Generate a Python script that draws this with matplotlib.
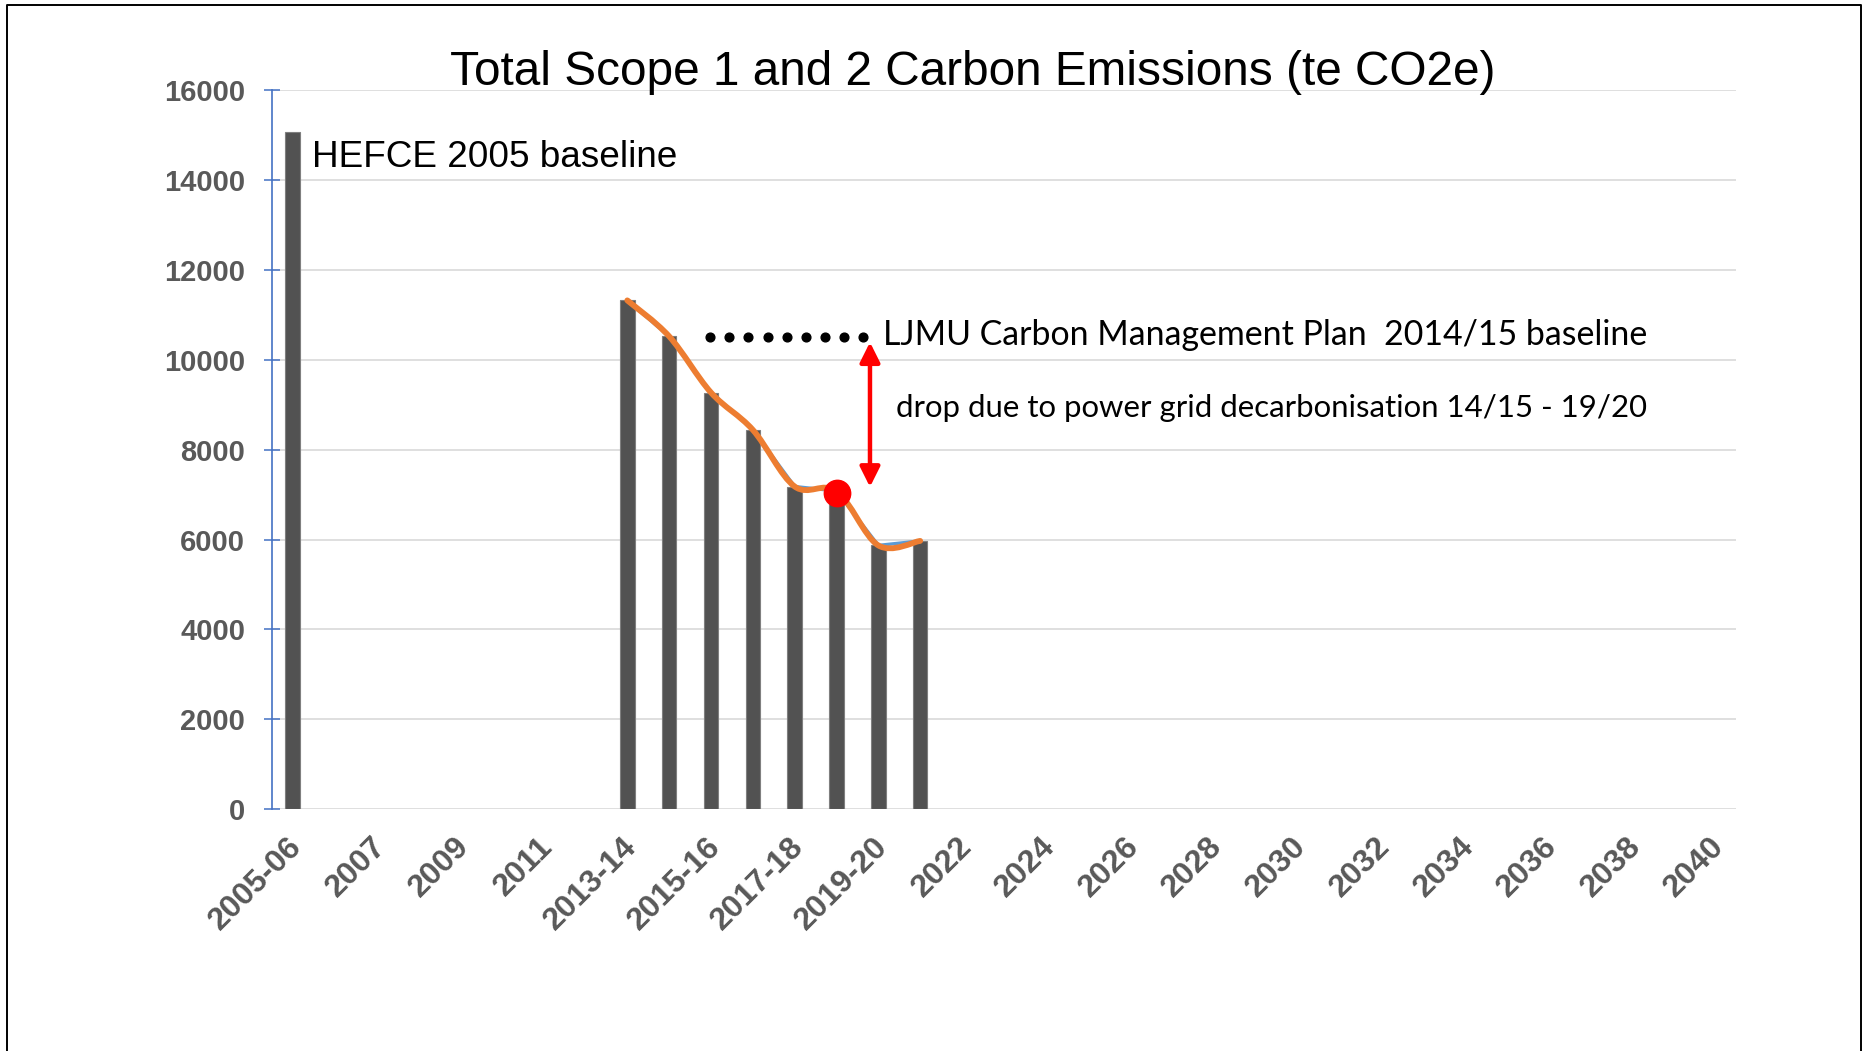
import numpy as np
import matplotlib
matplotlib.use("Agg")
import matplotlib.pyplot as plt
from matplotlib.path import Path
from matplotlib.patches import PathPatch
from matplotlib.lines import Line2D
from matplotlib.transforms import ScaledTranslation

# ---------------- data ----------------
categories = ["2005-06", "2006-07", "2007", "2008", "2009", "2010", "2011", "2012",
              "2013-14", "2014-15", "2015-16", "2016-17", "2017-18", "2018-19",
              "2019-20", "2020-21", "2022", "2023", "2024", "2025", "2026", "2027",
              "2028", "2029", "2030", "2031", "2032", "2033", "2034", "2035",
              "2036", "2037", "2038", "2039", "2040"]
emissions = [15060, None, None, None, None, None, None, None,
             11320, 10520, 9270, 8440, 7180, 7080, 5870, 5970,
             None, None, None, None, None, None, None, None, None, None,
             None, None, None, None, None, None, None, None, None]
trend_categories = ["2013-14", "2014-15", "2015-16", "2016-17", "2017-18",
                    "2018-19", "2019-20", "2020-21"]
trend_values = [11320, 10520, 9270, 8440, 7180, 7080, 5870, 5970]
highlight_category = "2018-19"
highlight_value = 7040
cmp_baseline_value = 10500
arrow_top_value = 10390
arrow_bottom_value = 7170
yticks = [0, 2000, 4000, 6000, 8000, 10000, 12000, 14000, 16000]

title = "Total Scope 1 and 2 Carbon Emissions (te CO2e)"
hefce_label = "HEFCE 2005 baseline"
cmp_label = "LJMU Carbon Management Plan  2014/15 baseline"
drop_label = "drop due to power grid decarbonisation 14/15 - 19/20"

# ---------------- figure ----------------
W, H = 1868, 1051
DPI = 100
fig = plt.figure(figsize=(W / DPI, H / DPI), dpi=DPI)
fig.patch.set_facecolor("white")

def fx(px):
    return px / W

def fy(py):
    return 1 - py / H

ax_left, ax_right, ax_top, ax_bottom = 271.7, 1736.0, 90.0, 809.3
ax = fig.add_axes([fx(ax_left), fy(ax_bottom), (ax_right - ax_left) / W,
                   (ax_bottom - ax_top) / H])

x = np.arange(len(categories))
idx = {c: i for i, c in enumerate(categories)}
bar_x = [i for i, v in enumerate(emissions) if v is not None]
bar_h = [v for v in emissions if v is not None]

ax.bar(bar_x, bar_h, width=0.35, color="#525252", edgecolor="#7f7f7f",
       linewidth=0.8, zorder=3)

tx = np.array([idx[c] for c in trend_categories], dtype=float)
ty = np.array(trend_values, dtype=float)
ax.plot(tx, ty, color="#5B9BD5", lw=2.4, zorder=4, solid_capstyle="round")

# smoothed (Excel-like) version of the same series
P = np.column_stack([tx, ty])
n = len(P)
verts = [P[0]]
codes = [Path.MOVETO]
for i in range(n - 1):
    p_prev = P[i - 1] if i > 0 else P[i]
    p_next2 = P[i + 2] if i + 2 < n else P[i + 1]
    c1 = P[i] + (P[i + 1] - p_prev) / 6.0
    c2 = P[i + 1] - (p_next2 - P[i]) / 6.0
    verts += [c1, c2, P[i + 1]]
    codes += [Path.CURVE4] * 3
ax.add_patch(PathPatch(Path(verts, codes), fill=False, edgecolor="#ED7D31",
                       lw=4.2, zorder=5, capstyle="round", joinstyle="round"))

ax.plot([idx[highlight_category]], [highlight_value], "o", color="#FF0000",
        markersize=19, zorder=6)

# dotted baseline marker
dots_x = np.linspace(9.98, 13.64, 9)
ax.plot(dots_x, [cmp_baseline_value] * len(dots_x), "o", color="black",
        markersize=6.3, zorder=6, clip_on=False)

# red double arrow
ax.annotate("", xy=(13.80, arrow_bottom_value), xytext=(13.80, arrow_top_value),
            arrowprops=dict(arrowstyle="<|-|>,head_length=1.2,head_width=0.6",
                            color="#FF0000", lw=3.2, mutation_scale=10,
                            shrinkA=0, shrinkB=0), zorder=6)

# ---------------- axes styling ----------------
ax.set_xlim(-0.5, len(categories) - 0.5)
ax.set_ylim(0, 16000)
ax.set_yticks(yticks)
ax.set_yticklabels([str(v) for v in yticks])
for s in ["top", "right", "bottom"]:
    ax.spines[s].set_visible(False)
ax.spines["left"].set_color("#4472C4")
ax.spines["left"].set_linewidth(1.2)
ax.spines["left"].set_zorder(7)
ax.yaxis.grid(True, color="#D9D9D9", lw=1.2, zorder=0)
ax.set_axisbelow(True)
ax.tick_params(axis="y", direction="inout", length=12, width=1.1,
               color="#4472C4", pad=13.0, labelsize=21, labelcolor="#595959")
for t in ax.get_yticklabels():
    t.set_fontfamily("Liberation Sans")
    t.set_fontweight("bold")

xt = list(range(0, len(categories), 2))
ax.set_xticks(xt)
ax.set_xticklabels([categories[i] for i in xt])
ax.tick_params(axis="x", length=0, pad=0, labelsize=23, labelcolor="#595959")
off = ScaledTranslation(5 / DPI, -33 / DPI, fig.dpi_scale_trans)
for t in ax.get_xticklabels():
    t.set_fontfamily("Liberation Sans")
    t.set_fontweight("bold")
    t.set_rotation(45)
    t.set_rotation_mode("anchor")
    t.set_ha("right")
    t.set_va("center")
    t.set_transform(t.get_transform() + off)

# ---------------- texts ----------------
t_title = fig.text(fx(972.5), fy(85), title, ha="center", va="baseline",
                   fontsize=33, family="Liberation Sans", color="black")
t_hefce = ax.text(0.457, 14280, hefce_label, ha="left", va="baseline",
                  fontsize=26, family="Liberation Sans", color="black", zorder=8)
t_cmp = ax.text(14.10, 10333, cmp_label, ha="left", va="baseline",
                fontsize=24, family="Lato", color="black", zorder=8)
t_drop = ax.text(14.42, 8718, drop_label, ha="left", va="baseline",
                 fontsize=22, family="Lato", color="black", zorder=8)

renderer = fig.canvas.get_renderer()
for t, target in [(t_title, 1045), (t_hefce, 365), (t_cmp, 764), (t_drop, 751)]:
    for _ in range(2):
        w = t.get_window_extent(renderer).width
        t.set_fontsize(t.get_fontsize() * target / w)

# figure border
fig.add_artist(Line2D([fx(7), fx(7), fx(1861), fx(1861)],
                      [0, fy(5), fy(5), 0], transform=fig.transFigure,
                      color="black", lw=1.4))

fig.savefig("out.png", dpi=DPI)
